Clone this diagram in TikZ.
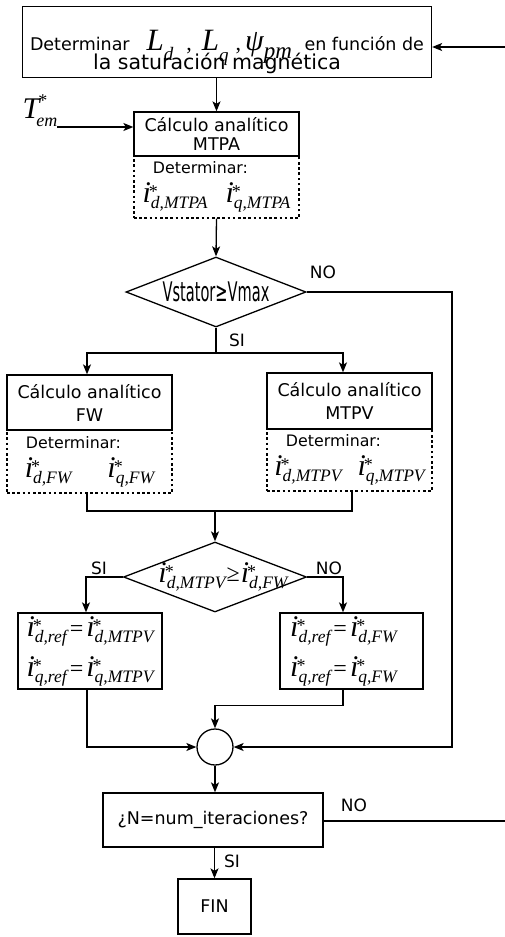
\documentclass[tikz,border=0pt]{standalone}
\usepackage{fontspec}
\usepackage{graphicx}
\setmainfont{DejaVu Sans}
\newfontfamily\tms{Liberation Serif}
\usetikzlibrary{arrows.meta,shapes.geometric}
\newcommand\fs[1]{\fontsize{#1}{#1}\selectfont}
\newcommand\fsb[2]{\fontsize{#1}{#2}\selectfont\lineskiplimit=-80pt\lineskip=0pt}
\newcommand\cu[1]{{\tms\itshape\fs{30}i}\rlap{\hspace{-2pt}\raisebox{5pt}{\tms\fs{18}*}}\raisebox{-6pt}{\tms\itshape\fs{17.5}#1}}
\newcommand\eqsign{{\tms\fs{24}\hspace{3pt}=\hspace{3pt}}}
\newcommand\bigit[2]{{\tms\itshape\fs{#1}#2}}
\begin{document}
\begin{tikzpicture}[x=1pt,y=-1pt,line width=1.3pt,
  >={Stealth[length=10pt,width=8pt,inset=2.5pt]},
  box/.style={draw,rectangle,inner sep=0pt,align=center,font=\fsb{17.5}{23}},
  dbox/.style={draw,rectangle,inner sep=0pt,align=center,font=\fsb{15.8}{29},dash pattern=on 2.6pt off 2.6pt},
  ebox/.style={draw,rectangle,inner sep=0pt,align=center,font=\fsb{17}{40}},
  dia/.style={draw,diamond,inner sep=0pt},
  conn/.style={->},
  lbl/.style={font=\fs{17},inner sep=0pt}]
\useasboundingbox[fill=white] (0,0) rectangle (505,937);

% top box
\node[box,font=\fsb{17.5}{19},minimum width=409,minimum height=71] (top) at (227,42)
 {\rule{0pt}{40pt}\hbox to 394pt{Determinar\hspace{17pt}\bigit{31}{L}\raisebox{-10pt}{\bigit{19}{d}}\hspace{13pt}{\tms\fs{22},}\hspace{10pt}\bigit{31}{L}\raisebox{-11pt}{\bigit{19}{q}}\hspace{7pt}{\tms\fs{22},}\hspace{4pt}\bigit{30}{ψ}\raisebox{-8pt}{\bigit{23}{pm}}\hfill en función de}\\
  {\fs{20.5}la saturación magnética}\rule{20pt}{0pt}};
\coordinate (in1) at (505,47);
\draw[conn] (in1) -- (in1 -| top.east);

% MTPA
\node[box,font=\fsb{17.5}{19},minimum width=165,minimum height=44] (mtpa) at (216.5,134) {Cálculo analítico\\MTPA};
\node[dbox,minimum width=165,minimum height=62] (mtpad) at (216.5,187)
 {Determinar:\rule{32pt}{0pt}\\\cu{d,MTPA}\hspace{18pt}\cu{q,MTPA}};
\draw[conn] (mtpa.north |- top.south) -- (mtpa.north);
\node[inner sep=0pt] (tem) at (40,111) {\bigit{30}{T}\rlap{\hspace{-1pt}\raisebox{12pt}{\tms\fs{18}*}}\hspace{-3pt}\raisebox{-8pt}{\bigit{18}{em}}};
\coordinate (tin) at (57,127);
\draw[conn] (tin) -- (tin -| mtpa.west);

% diamond 1
\node[dia,minimum width=180,minimum height=70] (d1) at (216,292)
 {\makebox[0pt]{\scalebox{0.54}[1]{\fs{27}Vstator≥Vmax}}};
\draw[conn] (mtpad.south) -- (d1.north);
\coordinate (rr) at (452,292);
\node[lbl] (no1) at (323,272) {NO};
\node[lbl] (si1) at (237,340) {SI};
\coordinate (s1) at (216,353);
\draw (d1.south) -- (s1);

% FW and MTPV
\node[box,minimum width=165,minimum height=55] (fw) at (89.5,402.5) {Cálculo analítico\\FW};
\node[dbox,minimum width=165,minimum height=63] (fwd) at (89.5,461.5)
 {Determinar:\rule{32pt}{0pt}\\\cu{d,FW}\hspace{36pt}\cu{q,FW}};
\node[box,minimum width=165,minimum height=56] (mtpv) at (349.5,401) {Cálculo analítico\\MTPV};
\node[dbox,minimum width=165,minimum height=62] (mtpvd) at (349.5,460)
 {Determinar:\rule{32pt}{0pt}\\\cu{d,MTPV}\hspace{16pt}\cu{q,MTPV}};
\draw[conn] (s1) -| ([xshift=-2.5pt]fw.north);
\draw[conn] (s1) -| ([xshift=-6.5pt]mtpv.north);

\coordinate (j) at (215,511);
\draw ([xshift=-2.5pt]fwd.south) |- (j);
\draw ([xshift=2.5pt]mtpvd.south) |- (j);

% diamond 2
\node[dia,minimum width=183,minimum height=70] (d2) at (215,577)
 {\makebox[0pt]{\hspace{16pt}\cu{d,MTPV}\hspace{1pt}\raisebox{1pt}{\tms\fs{24}≥}\hspace{1pt}\cu{d,FW}}};
\draw[conn] (j) -- (d2.north);
\node[lbl] (si2) at (99,568) {SI};
\node[lbl] (no2) at (329,568) {NO};

% ref boxes
\node[ebox,minimum width=144,minimum height=76] (refl) at (90,651)
 {\cu{d,ref}\eqsign\cu{d,MTPV}\\\cu{q,ref}\eqsign\cu{q,MTPV}};
\node[ebox,minimum width=143,minimum height=76] (refr) at (351.5,651)
 {\cu{d,ref}\eqsign\cu{d,FW}\rule{16pt}{0pt}\\\cu{q,ref}\eqsign\cu{q,FW}\rule{16pt}{0pt}};
\draw[conn] (d2.west) -| ([xshift=-4pt]refl.north);
\draw[conn] (d2.east) -| ([xshift=-8.5pt]refr.north);

% summing circle
\node[draw,circle,minimum size=36,inner sep=0pt] (c) at (215,747) {};
\draw[conn] ([xshift=-3pt]refl.south) |- (c.west);
\draw[conn] ([xshift=-8.5pt]refr.south) -- ++(0,16) -| (c.north);
\draw[conn] (d1.east) -- (rr) |- (c.east);

% iteration
\node[box,minimum width=220,minimum height=54] (last) at (213,820) {¿N=num\_iteraciones?};
\draw[conn] (c.south) -- (c.south |- last.north);
\coordinate (out) at (505,821);
\draw (last.east |- out) -- (out);
\node[lbl] (no3) at (354,805) {NO};
\node[box,minimum width=73,minimum height=55] (fin) at (214.5,906.5) {FIN};
\draw[conn] (last.south -| fin.north) -- (fin.north);
\node[lbl] (si3) at (232,861) {SI};
\end{tikzpicture}
\end{document}
